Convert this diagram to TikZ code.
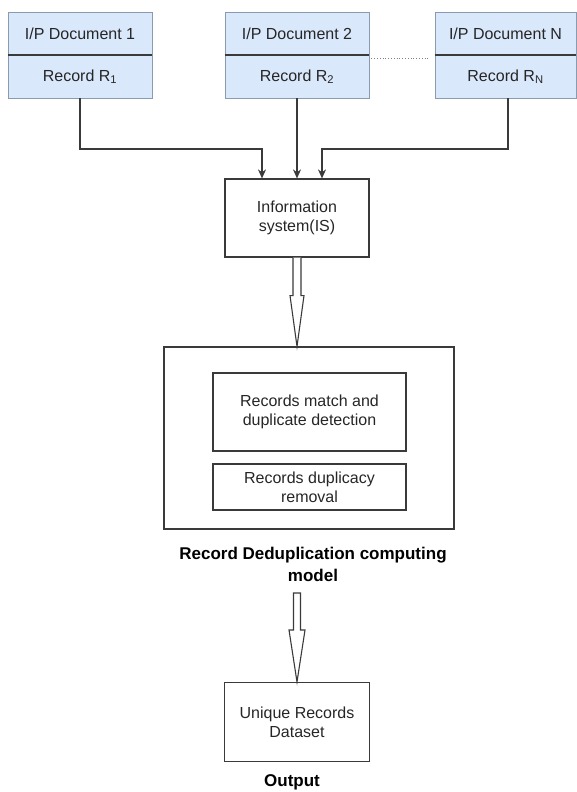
\documentclass[tikz,border=0pt]{standalone}
\usepackage{fontspec}
\setmainfont{Liberation Sans}
\usetikzlibrary{arrows.meta,calc}
\definecolor{docfill}{HTML}{DAE8FC}
\definecolor{docline}{HTML}{8A9BB0}
\definecolor{dark}{HTML}{3A3A3A}
\begin{document}
\begin{tikzpicture}[x=1pt,y=-1pt,
  every node/.style={font=\fontsize{16}{19}\selectfont, text=black!85},
  docbox/.style={draw=docline, fill=docfill, line width=0.8pt, minimum width=144pt, minimum height=43pt, inner sep=0pt},
  plainbox/.style={draw=dark, line width=1.2pt, inner sep=0pt, align=center},
  arr/.style={draw=dark, line width=1.2pt, -{Stealth[length=9pt,width=8pt]}},
  hollow/.style={draw=dark, line width=1.1pt, fill=white},
  lbl/.style={font=\fontsize{17}{22}\bfseries\selectfont, text=black, align=center}
]
\useasboundingbox (0,0) rectangle (577,792);
% documents
\node[docbox] (h1) at (80,33.5) {I/P Document 1};
\node[docbox] (r1) at (80,76.5) {Record R\textsubscript{1}};
\node[docbox] (h2) at (297,33.5) {I/P Document 2};
\node[docbox] (r2) at (297,76.5) {Record R\textsubscript{2}};
\node[docbox, minimum width=141pt] (hn) at (505.5,33.5) {I/P Document N};
\node[docbox, minimum width=141pt] (rn) at (505.5,76.5) {Record R\textsubscript{N}};
\foreach \d in {1,2,n}{\draw[dark, line width=2.2pt] (h\d.south west) -- (h\d.south east);}
\draw[gray, dotted, line width=0.8pt] ($(r2.north east)+(2,4)$) -- ($(rn.north west)+(-6,4)$);
% information system
\node[plainbox, minimum width=144pt, minimum height=78pt] (is) at (297,218) {Information\\system(IS)};
\coordinate (b1) at (262,149);
\coordinate (bn) at (322,149);
\draw[arr] (r1.south) |- (b1) -- (b1 |- is.north);
\draw[arr] (r2.south) -- (r2.south |- is.north);
\draw[arr] ([xshift=2.5pt]rn.south) |- (bn) -- (bn |- is.north);
% dedup model
\node[plainbox, minimum width=290pt, minimum height=182pt] (model) at (309,438) {};
\node[plainbox, minimum width=193pt, minimum height=78pt] (match) at (309.5,412) {Records match and\\duplicate detection};
\node[plainbox, minimum width=193pt, minimum height=46pt] (remove) at (309.5,487) {Records duplicacy\\removal};
\node[lbl] (mlabel) at (313,564) {Record Deduplication computing\\model};
% hollow arrow 1
\coordinate (t1) at (is.south |- model.north);
\draw[hollow] ($(is.south)+(-4,0)$) -- ($(is.south)+(-4,38)$) -- ($(is.south)+(-7,38)$) -- (t1) -- ($(is.south)+(7,38)$) -- ($(is.south)+(4,38)$) -- ($(is.south)+(4,0)$);
% output
\node[plainbox, minimum width=145pt, minimum height=79pt] (out) at (297,722) {Unique Records\\Dataset};
\node[lbl] (olabel) at (292,782) {Output};
\coordinate (s2) at (297,593);
\draw[hollow] ($(s2)+(-3.5,0)$) -- ($(s2)+(-3.5,37)$) -- ($(s2)+(-8,37)$) -- (out.north) -- ($(s2)+(8,37)$) -- ($(s2)+(3.5,37)$) -- ($(s2)+(3.5,0)$) -- cycle;
\end{tikzpicture}
\end{document}
